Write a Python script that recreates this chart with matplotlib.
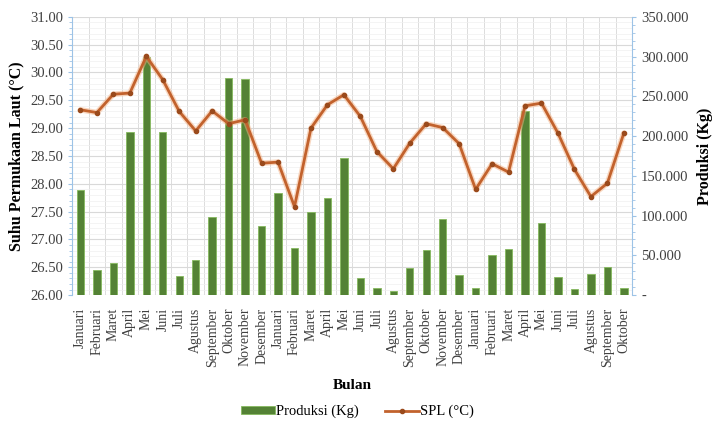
import numpy as np
import matplotlib.pyplot as plt
from matplotlib.ticker import FuncFormatter, MultipleLocator

plt.rcParams['font.family'] = ['Liberation Serif', 'DejaVu Serif']

bulan = ['Januari', 'Februari', 'Maret', 'April', 'Mei', 'Juni', 'Juli', 'Agustus',
         'September', 'Oktober', 'November', 'Desember',
         'Januari', 'Februari', 'Maret', 'April', 'Mei', 'Juni', 'Juli', 'Agustus',
         'September', 'Oktober', 'November', 'Desember',
         'Januari', 'Februari', 'Maret', 'April', 'Mei', 'Juni', 'Juli', 'Agustus',
         'September', 'Oktober']

produksi = [132000, 31500, 40700, 204800, 299000, 204800, 24300, 44000,
            97800, 273600, 272400, 87300,
            128000, 59600, 104500, 122500, 172100, 21000, 8400, 5400,
            34400, 56700, 95300, 25200,
            8400, 50400, 57500, 232000, 90200, 22300, 7200, 26400,
            34900, 8400]

spl = [29.33, 29.28, 29.61, 29.63, 30.29, 29.87, 29.30, 28.95,
       29.31, 29.08, 29.15, 28.37,
       28.39, 27.59, 29.00, 29.42, 29.60, 29.21, 28.58, 28.27,
       28.73, 29.08, 29.01, 28.72,
       27.90, 28.36, 28.21, 29.40, 29.45, 28.91, 28.26, 27.77,
       28.01, 28.91]

x = np.arange(len(bulan))
spine_col = '#9dc3e6'

fig, ax = plt.subplots(figsize=(7.15, 4.21), dpi=100)
fig.subplots_adjust(left=0.101, right=0.884, top=0.96, bottom=0.299)
ax2 = ax.twinx()

# left axis: temperature scale + grid (sits behind the bars)
ax.set_ylim(26, 31)
ax.yaxis.set_major_locator(MultipleLocator(0.5))
ax.yaxis.set_minor_locator(MultipleLocator(0.1))
ax.yaxis.set_major_formatter(FuncFormatter(lambda v, p: f'{v:.2f}'))
ax.set_ylabel('Suhu Permukaan Laut (°C)', fontweight='bold', fontsize=11.5, labelpad=4)
ax.set_xlim(-0.5, len(bulan) - 0.5)
ax.set_xticks(x)
ax.set_xticklabels(bulan, rotation=90, fontsize=10)
ax.set_xlabel('Bulan', fontweight='bold', fontsize=11, labelpad=9)
ax.set_xticks(np.arange(len(bulan) + 1) - 0.5, minor=True)
ax.grid(which='major', axis='y', color='#d9d9d9', linewidth=0.8)
ax.grid(which='minor', axis='y', color='#f0f0f0', linewidth=0.5)
ax.grid(which='minor', axis='x', color='#dcdcdc', linewidth=0.7)
ax.tick_params(axis='x', which='both', length=0, pad=9)

# right axis: production bars
bars = ax2.bar(x, produksi, width=0.45, color='#548235', edgecolor='#86b95e',
               linewidth=0.6, label='Produksi (Kg)', zorder=2)
ax2.set_ylim(0, 350000)
ax2.yaxis.set_major_locator(MultipleLocator(50000))
ax2.yaxis.set_minor_locator(MultipleLocator(10000))
ax2.yaxis.set_major_formatter(FuncFormatter(
    lambda v, p: '-' if v == 0 else f'{int(v):,}'.replace(',', '.')))
ax2.set_ylabel('Produksi (Kg)', fontweight='bold', fontsize=11.5, labelpad=6)

# temperature line, drawn in left-axis data coords on top of the bars
ax2.plot(x, spl, transform=ax.transData, color='#f4b183', linewidth=4,
         alpha=0.5, zorder=4, solid_capstyle='round')
line, = ax2.plot(x, spl, transform=ax.transData, color='#c2622d', linewidth=2,
                 marker='o', markersize=3, markerfacecolor='#9a4a1c',
                 markeredgecolor='#9a4a1c', label='SPL (°C)', zorder=5)

for a in (ax, ax2):
    a.spines['top'].set_visible(False)
    a.spines['bottom'].set_visible(False)
    a.spines['left'].set_color(spine_col)
    a.spines['right'].set_color(spine_col)
    a.tick_params(axis='y', which='both', colors=spine_col, labelcolor='#404040',
                  labelsize=10.5)
    a.tick_params(axis='y', which='major', length=3)
    a.tick_params(axis='y', which='minor', length=2)
ax.tick_params(axis='x', labelcolor='#404040')
ax.spines['right'].set_visible(False)
ax2.spines['left'].set_visible(False)

fig.legend([bars, line], ['Produksi (Kg)', 'SPL (°C)'], loc='lower center',
           bbox_to_anchor=(0.5, -0.025), ncol=2, frameon=False, fontsize=10.5,
           handlelength=2.3, handleheight=0.5, handletextpad=0.1,
           columnspacing=1.8)

plt.savefig('out.png', dpi=100)
